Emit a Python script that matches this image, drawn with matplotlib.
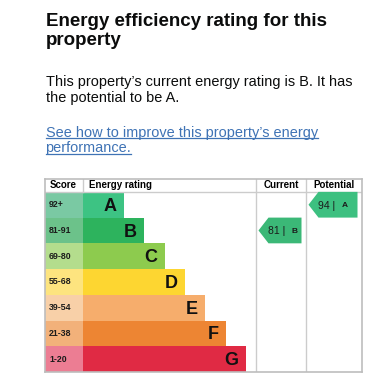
import matplotlib
matplotlib.use("Agg")
import matplotlib.pyplot as plt
from matplotlib.patches import Polygon
from matplotlib.lines import Line2D

plt.rcParams["font.family"] = ["Liberation Sans", "DejaVu Sans"]

# --- data ---
bands = ["A", "B", "C", "D", "E", "F", "G"]
score_ranges = ["92+", "81-91", "69-80", "55-68", "39-54", "21-38", "1-20"]
band_floor = [92, 81, 69, 55, 39, 21, 1]
bar_steps = [2, 3, 4, 5, 6, 7, 8]
bar_colors = ["#3dc383", "#2db35d", "#8dcb4e", "#fdd631", "#f6ad6c", "#ed8533", "#e02a44"]
cell_colors = ["#7ac9a3", "#6cc28a", "#b4dd8d", "#fde47f", "#f8d0a8", "#f2b17a", "#ec7d93"]
current_score = 81
potential_score = 94

W, H = 377, 388
fig = plt.figure(figsize=(W / 100, H / 100), dpi=100)


def fpos(x, y):
    return x / W, 1 - y / H


# heading text
title_lines = ["Energy efficiency rating for this", "property"]
for line, yb in zip(title_lines, [26, 45]):
    fig.text(*fpos(45.5, yb), line, fontsize=13.5, fontweight="bold",
             color="#0b0c0c", va="baseline")

body_lines = ["This property\u2019s current energy rating is B. It has",
              "the potential to be A."]
for line, yb in zip(body_lines, [85.7, 101.7]):
    fig.text(*fpos(45.5, yb), line, fontsize=10.45, color="#0b0c0c", va="baseline")

link_color = "#3f73b5"
link_lines = ["See how to improve this property\u2019s energy", "performance."]
renderer = fig.canvas.get_renderer()
for line, yb in zip(link_lines, [136.5, 152.5]):
    t = fig.text(*fpos(45.5, yb), line, fontsize=10.45, color=link_color, va="baseline")
    bb = t.get_window_extent(renderer)
    uy = 1 - (yb + 1.8) / H
    fig.add_artist(Line2D([bb.x0 / W, bb.x1 / W], [uy, uy], color=link_color,
                          lw=0.9, transform=fig.transFigure))

# --- table ---
left, top, right, bottom = 45, 179, 362, 372
ax = fig.add_axes([left / W, 1 - bottom / H, (right - left) / W, (bottom - top) / H])
ax.set_xlim(0, right - left)
ax.set_ylim(6.5, -1.0)
ax.set_xticks([])
ax.set_yticks([])
for s in ax.spines.values():
    s.set_color("#bdbdbd")
    s.set_linewidth(1.2)

score_w = 38
step = 20.4
cur_l, cur_r = 256 - left, 306 - left
pot_l, pot_r = cur_r, right - left
rows = list(range(len(bands)))

ax.barh(rows, [score_w] * len(rows), left=0, height=1.0, color=cell_colors, zorder=1)
ax.barh(rows, [s * step for s in bar_steps], left=score_w, height=1.0,
        color=bar_colors, zorder=1)

for i, (b, sr, n) in enumerate(zip(bands, score_ranges, bar_steps)):
    ax.text(4, i, sr, fontsize=6.3, fontweight="bold", color="#1b1b1b",
            va="center", ha="left", zorder=3)
    ax.text(score_w + n * step - 7.5, i + 0.06, b, fontsize=13, fontweight="bold",
            color="#111111", va="center", ha="right", zorder=3)

# grid lines
grid = "#cccccc"
ax.axhline(-0.5, color=grid, lw=1, zorder=2)
ax.axvline(cur_l, color=grid, lw=1, zorder=2)
ax.axvline(cur_r, color=grid, lw=1, zorder=2)
ax.plot([score_w, score_w], [-1.0, -0.5], color=grid, lw=1, zorder=2)

# header
hy = -0.75
ax.text(5, hy, "Score", fontsize=7, fontweight="bold", va="center", ha="left")
ax.text(44.3, hy, "Energy rating", fontsize=7, fontweight="bold", va="center", ha="left")
ax.text((cur_l + cur_r) / 2, hy, "Current", fontsize=7, fontweight="bold",
        va="center", ha="center")
ax.text((pot_l + pot_r) / 2, hy, "Potential", fontsize=7, fontweight="bold",
        va="center", ha="center")


def band_index(score):
    for i, fl in enumerate(band_floor):
        if score >= fl:
            return i
    return len(band_floor) - 1


def rating_arrow(score, col_l, col_r, color):
    r = band_index(score)
    x0, x1 = col_l + 2.5, col_r - 4.5
    tip, h = 10, 0.5
    pts = [(x0, r), (x0 + tip, r - h), (x1, r - h), (x1, r + h), (x0 + tip, r + h)]
    ax.add_patch(Polygon(pts, closed=True, color=color, lw=0, zorder=3))
    ax.text(x0 + 10, r + 0.03, f"{score} |", fontsize=7.5, color="#1b1b1b",
            va="center", ha="left", zorder=4)
    ax.text(x0 + 33, r + 0.03, bands[r], fontsize=6, fontweight="bold",
            color="#1b1b1b", va="center", ha="left", zorder=4)


rating_arrow(current_score, cur_l, cur_r, "#3bb877")
rating_arrow(potential_score, pot_l, pot_r, "#3dc080")

fig.savefig("out.png", dpi=100)
